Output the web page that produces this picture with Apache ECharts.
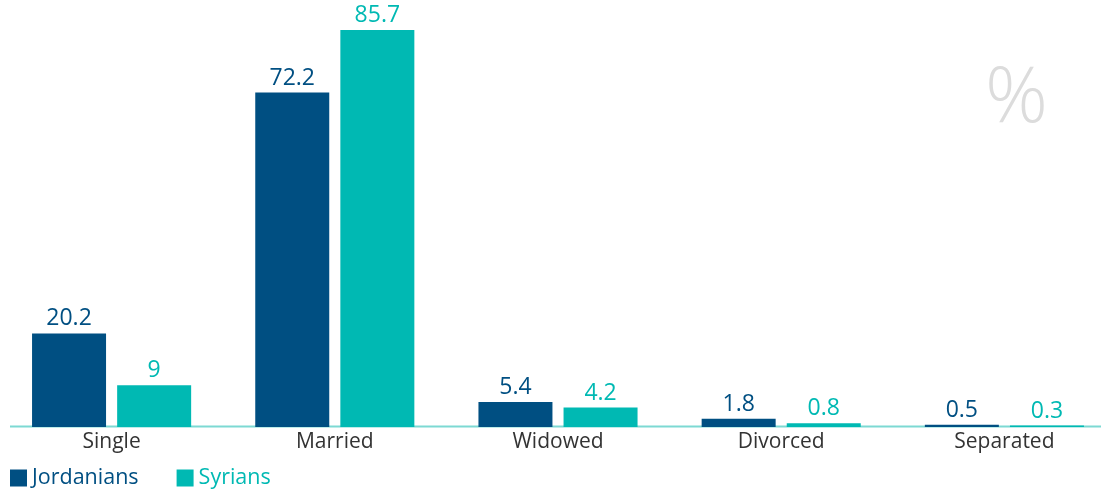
<!DOCTYPE html>
<html>
<head>
<meta charset="utf-8">
<script src="https://cdn.jsdelivr.net/npm/echarts@6/dist/echarts.min.js"></script>
<style>
  html, body { margin: 0; padding: 0; background: #fff; }
  #chart { width: 1101px; height: 493px; }
</style>
</head>
<body>
<div id="chart"></div>
<script>
// Marital status, percent
const categories = ['Single', 'Married', 'Widowed', 'Divorced', 'Separated'];
const jordanians = [20.2, 72.2, 5.4, 1.8, 0.5];
const syrians = [9, 85.7, 4.2, 0.8, 0.3];
const seriesNames = ['Jordanians', 'Syrians'];

const DARK = '#004f82';
const TEAL = '#00b9b3';
const FONT = '"Open Sans", "Noto Sans", sans-serif';

const chart = echarts.init(document.getElementById('chart'));

const barLabel = (color) => ({
  show: true,
  position: 'top',
  distance: 3,
  color: color,
  fontFamily: FONT,
  fontSize: 23
});

chart.setOption({
  animation: false,
  grid: {
    left: 0, width: 1116, top: 10, bottom: 66,
    containLabel: false,
    outerBoundsMode: 'none'
  },
  legend: {
    data: seriesNames,
    left: 5,
    top: 462,
    icon: 'rect',
    itemWidth: 17,
    itemHeight: 17,
    itemGap: 38,
    selectedMode: false,
    formatter: (name) => name === 'Syrians' ? '{s|' + name + '}' : '{j|' + name + '}',
    textStyle: {
      rich: {
        j: { color: DARK, fontFamily: FONT, fontSize: 21.5 },
        s: { color: TEAL, fontFamily: FONT, fontSize: 21.5 }
      }
    }
  },
  xAxis: {
    type: 'category',
    data: categories,
    axisLine: { show: false },
    axisTick: { show: false },
    axisLabel: { color: '#333', fontFamily: FONT, fontSize: 21, margin: 5 }
  },
  yAxis: {
    type: 'value',
    min: 0,
    max: 90,
    show: false,
    splitLine: { show: false }
  },
  series: [
    {
      name: seriesNames[0],
      type: 'bar',
      data: jordanians,
      barWidth: 74,
      barGap: '15%',
      itemStyle: { color: DARK },
      label: barLabel(DARK),
      z: 3
    },
    {
      name: seriesNames[1],
      type: 'bar',
      data: syrians,
      barWidth: 74,
      itemStyle: { color: TEAL },
      label: barLabel(TEAL),
      z: 3
    }
  ],
  graphic: [
    {
      type: 'line',
      shape: { x1: 10, y1: 426.5, x2: 1101, y2: 426.5 },
      style: { stroke: '#7dd9d3', lineWidth: 2 },
      z: 1
    },
    {
      type: 'text',
      left: 985,
      top: 61,
      style: {
        text: '%',
        font: '300 78px ' + FONT,
        fill: '#dcdcdc'
      }
    }
  ]
});
</script>
</body>
</html>
